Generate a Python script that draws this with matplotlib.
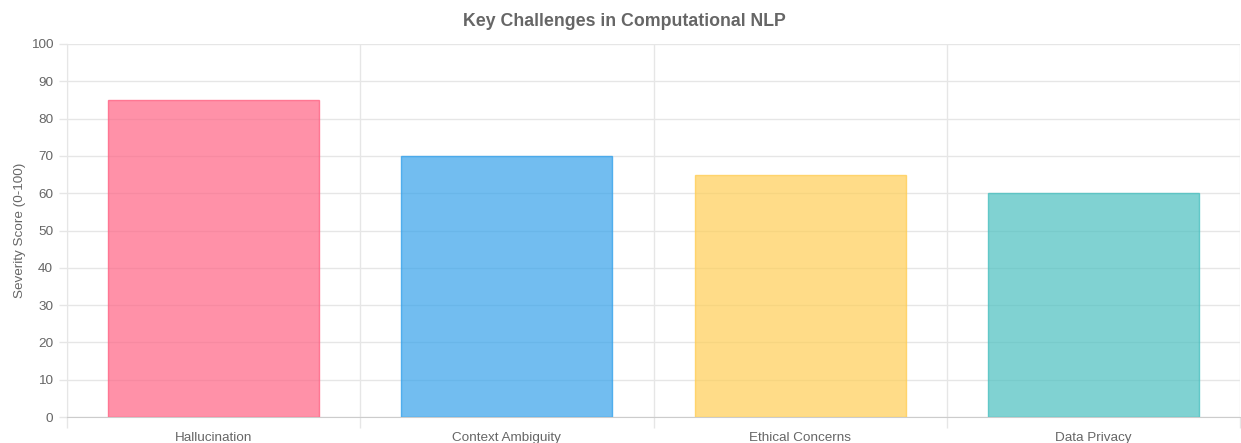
import numpy as np
import matplotlib.pyplot as plt

plt.rcParams['font.family'] = ['Liberation Sans', 'DejaVu Sans']

categories = ["Hallucination", "Context Ambiguity", "Ethical Concerns", "Data Privacy"]
scores = [85, 70, 65, 60]
fill_colors = [(255/255, 99/255, 132/255, 0.7), (54/255, 162/255, 235/255, 0.7),
               (255/255, 206/255, 86/255, 0.7), (75/255, 192/255, 192/255, 0.7)]
edge_colors = [c[:3] + (0.8,) for c in fill_colors]

GRID = "#e6e6e6"
TEXT = "#666666"

fig = plt.figure(figsize=(12.41, 4.43), dpi=100)
ax = fig.add_axes([67/1241, 26/443, (1240-67)/1241, (417-44)/443])

x = np.arange(len(categories))
ax.bar(x, scores, width=0.72, color=fill_colors, edgecolor=edge_colors, linewidth=1, zorder=3)

ax.set_xlim(-0.5, len(categories) - 0.5)
ax.set_ylim(0, 100)
ax.set_yticks(np.arange(0, 101, 10))
ax.set_xticks(x)
ax.set_xticklabels(categories)
ax.set_xticks(np.arange(-0.5, len(categories)), minor=True)

ax.grid(axis='y', color=GRID, linewidth=1, zorder=0)
ax.grid(axis='x', which='minor', color=GRID, linewidth=1, zorder=0)
ax.tick_params(axis='x', which='major', length=0, pad=11, labelsize=9.7, labelcolor=TEXT)
ax.tick_params(axis='x', which='minor', length=8, color=GRID, width=1)
ax.tick_params(axis='y', length=6, color=GRID, width=1, pad=4, labelsize=9.7, labelcolor=TEXT)

for side in ['top', 'right']:
    ax.spines[side].set_visible(False)
ax.spines['left'].set_color(GRID)
ax.spines['bottom'].set_color("#cccccc")

ax.set_ylabel("Severity Score (0-100)", color=TEXT, fontsize=9.7, labelpad=3)
fig.text(624/1241, 1 - 22/443, "Key Challenges in Computational NLP", ha='center', va='center',
         fontsize=12.8, fontweight='bold', color=TEXT)

fig.savefig("out.png", dpi=100)
